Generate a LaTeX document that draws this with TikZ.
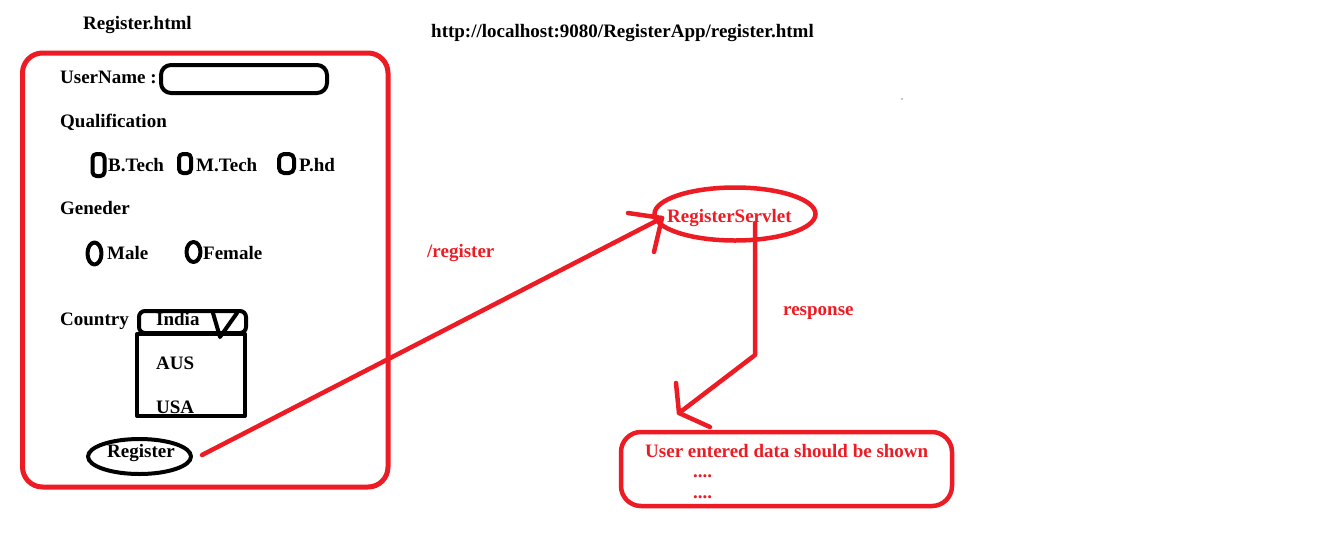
\documentclass[tikz,border=0pt]{standalone}
\usepackage{fontspec}
\setmainfont{Liberation Serif}
\usetikzlibrary{shapes.geometric}
\definecolor{pred}{HTML}{ED1C24}
\begin{document}
\begin{tikzpicture}[x=1pt,y=-1pt,
 lbl/.style={inner sep=0pt, anchor=base west, font=\fontsize{19}{22}\selectfont\bfseries},
 rlbl/.style={lbl, text=pred},
 blk/.style={draw=black, line width=4pt, line join=round},
 redln/.style={draw=pred, line width=4.5pt, line cap=round, line join=round},
 oval/.style={ellipse, inner sep=0pt},
 rbox/.style={rectangle, inner sep=0pt},
]
\useasboundingbox[fill=white] (0,0) rectangle (1335,539);

% titles
\node[lbl] (title) at (83,29) {Register.html};
\node[lbl] (url) at (431,37) {http://localhost:9080/RegisterApp/register.html};
\fill (902,99) circle (0.7);

% form frame
\node[rbox, draw=pred, line width=5pt, rounded corners=20pt, minimum width=365.5pt, minimum height=434pt] (form) at (205.25,270) {};

% username
\node[lbl] (uname) at (60,83) {UserName :};
\node[rbox, blk, rounded corners=10pt, minimum width=166pt, minimum height=28pt] (ubox) at (244,79) {};

% qualification
\node[lbl] (qual) at (60,127) {Qualification};
\node[rbox, blk, rounded corners=4pt, minimum width=12pt, minimum height=22pt] (cb1) at (98.5,165) {};
\node[lbl] (btech) at (108,171) {B.Tech};
\node[rbox, blk, rounded corners=4pt, minimum width=12pt, minimum height=19pt] (cb2) at (185,163.5) {};
\node[lbl] (mtech) at (196,171) {M.Tech};
\node[rbox, blk, rounded corners=5pt, minimum width=15pt, minimum height=19pt] (cb3) at (286.5,163.5) {};
\node[lbl] (phd) at (299,171) {P.hd};

% gender
\node[lbl] (gender) at (60,214) {Geneder};
\node[oval, blk, minimum width=14pt, minimum height=22pt] (rb1) at (94.5,253.5) {};
\node[lbl] (male) at (107,259) {Male};
\node[oval, blk, minimum width=14pt, minimum height=20pt] (rb2) at (193.5,252) {};
\node[lbl] (female) at (203,259) {Female};

% country
\node[lbl] (country) at (60,325) {Country};
\node[rbox, blk, minimum width=108pt, minimum height=82pt] (list) at (191,375) {};
\node[rbox, blk, rounded corners=6pt, minimum width=107pt, minimum height=22pt] (drop) at (192.5,322) {};
\draw[blk, line cap=round] (213,313) -- (220,337) -- (237,313);
\node[lbl] (india) at (156,325) {India};
\node[lbl] (aus) at (156,369) {AUS};
\node[lbl] (usa) at (156,413) {USA};

% register button
\node[oval, blk, minimum width=103pt, minimum height=35pt] (regbtn) at (139.5,456.5) {};
\node[lbl] (reglbl) at (107,457) {Register};

% servlet
\node[oval, draw=pred, line width=4.5pt, minimum width=161pt, minimum height=53pt] (servlet) at (735,214) {};
\node[rlbl] (servletlbl) at (667,222) {RegisterServlet};

% output
\node[rbox, draw=pred, line width=4.5pt, rounded corners=20pt, minimum width=331pt, minimum height=74pt] (out) at (786.5,469) {};
\node[rlbl] (outlbl) at (645,457) {User entered data should be shown};
\node[rlbl] (dots1) at (693,477) {....};
\node[rlbl] (dots2) at (693,498) {....};

% connectors
\coordinate (rstart) at (202,455);
\coordinate (rtip) at (662,218);
\draw[redln] (rstart) -- (rtip);
\draw[redln] (628,213) -- (rtip) -- (654,252);
\node[rlbl] (reqlbl) at (427,257) {/register};

\coordinate (sstart) at (755,223);
\coordinate (bend) at (755,355);
\coordinate (stip) at (679,413);
\draw[redln] (sstart) -- (bend) -- (stip);
\draw[redln] (676,383) -- (stip) -- (710,427);
\node[rlbl] (resplbl) at (783,315) {response};
\end{tikzpicture}
\end{document}
